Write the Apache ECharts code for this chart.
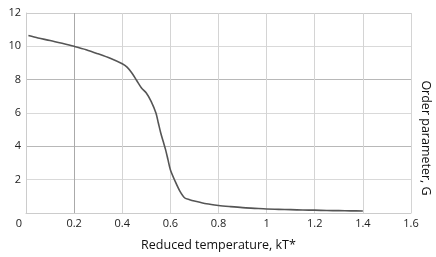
<!DOCTYPE html>
<html><head><meta charset="utf-8">
<script src="https://cdn.jsdelivr.net/npm/echarts@6/dist/echarts.min.js"></script>
<style>html,body{margin:0;padding:0;background:#fff}#c{width:436px;height:257px}</style>
</head><body><div id="c"></div>
<script>
const temperature = [0.01,0.05,0.1,0.15,0.2,0.25,0.3,0.35,0.4,0.42,0.44,0.46,0.48,0.5,0.52,0.54,0.55,0.56,0.57,0.58,0.59,0.6,0.62,0.64,0.66,0.68,0.7,0.75,0.8,0.85,0.9,0.95,1.0,1.05,1.1,1.15,1.2,1.25,1.3,1.35,1.4];
const orderParam = [10.65,10.5,10.35,10.18,10.0,9.8,9.55,9.28,8.95,8.75,8.4,7.95,7.5,7.2,6.7,6.0,5.4,4.8,4.3,3.8,3.2,2.6,1.9,1.3,0.9,0.8,0.72,0.55,0.45,0.38,0.32,0.28,0.24,0.22,0.2,0.18,0.17,0.15,0.14,0.13,0.12];
const xTitle = 'Reduced temperature, kT*';
const yTitle = 'Order parameter, G';
const FONT = '"Open Sans", sans-serif';
const chart = echarts.init(document.getElementById('c'));
chart.setOption({
  animation: false,
  grid: {left: 26, right: 25, top: 13, bottom: 43, containLabel: false},
  xAxis: {
    type: 'value', min: 0, max: 1.6, interval: 0.2,
    axisLine: {show: true, lineStyle: {color: '#cccccc', width: 1}},
    axisTick: {show: false},
    axisLabel: {color: '#222', fontFamily: FONT, fontSize: 11, margin: 5,
      formatter: v => v === 0 ? '{z|0}' : String(+v.toFixed(1)),
      rich: {z: {padding: [0, 14, 0, 0], color: '#222', fontFamily: FONT, fontSize: 11}}},
    splitLine: {show: true, lineStyle: {color: ['#cccccc','#aaaaaa','#d4d4d4','#d4d4d4','#d4d4d4','#d4d4d4','#d4d4d4','#d4d4d4','#d4d4d4'], width: 1}},
    name: xTitle, nameLocation: 'middle', nameGap: 26,
    nameTextStyle: {color: '#111', fontFamily: FONT, fontSize: 12.5}
  },
  yAxis: {
    type: 'value', min: 0, max: 12, interval: 2,
    axisLine: {show: true, lineStyle: {color: '#cccccc', width: 1}},
    axisTick: {show: false},
    axisLabel: {color: '#222', fontFamily: FONT, fontSize: 11, margin: 5,
      formatter: v => v === 0 ? '' : String(v)},
    splitLine: {show: true, lineStyle: {color: ['#cccccc','#d9d9d9','#b8b8b8','#d9d9d9','#b8b8b8','#d9d9d9','#cccccc'], width: 1}}
  },
  graphic: [{
    type: 'text', x: 426, y: 138, rotation: -Math.PI/2,
    style: {text: yTitle, fill: '#111', font: '12.5px ' + FONT, align: 'center', verticalAlign: 'middle'}
  }],
  series: [{
    type: 'line', data: temperature.map((t, i) => [t, orderParam[i]]),
    showSymbol: false, smooth: 0.3,
    lineStyle: {color: '#555555', width: 1.6}
  }]
});
</script></body></html>
